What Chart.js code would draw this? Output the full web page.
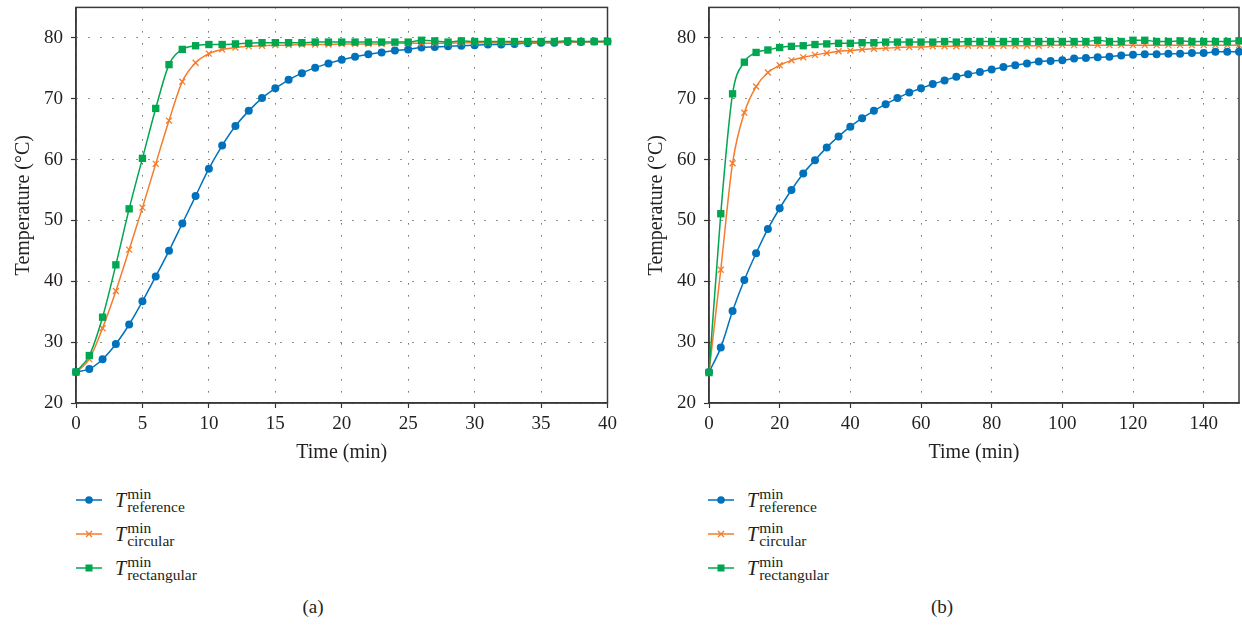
<!DOCTYPE html>
<html>
<head>
<meta charset="utf-8">
<script src="https://cdn.jsdelivr.net/npm/chart.js@4.4.1/dist/chart.umd.min.js"></script>
<style>
  body { margin: 0; background: #fff; width: 1242px; height: 627px; position: relative; overflow: hidden;
         font-family: "Liberation Serif", serif; color: #231f20; }
  .box { position: absolute; top: -12px; height: 483px; }
  .legend { position: absolute; top: 483px; }
  .row { display: flex; align-items: center; height: 34px; }
  .row svg { width: 26px; height: 14px; margin-right: 13px; }
  .T { font-style: italic; font-size: 20px; }
  .stack { display: inline-flex; flex-direction: column; font-size: 15.5px; line-height: 0.85; margin-left: 1px; }
  .cap { position: absolute; top: 596px; font-size: 19px; transform: translateX(-50%); }
</style>
</head>
<body>
<div class="box" style="left:0;width:622px"><canvas id="chartA"></canvas></div>
<div class="box" style="left:633px;width:616px"><canvas id="chartB"></canvas></div>
<div class="legend" id="legA" style="left:76px"></div>
<div class="legend" id="legB" style="left:708px"></div>
<div class="cap" style="left:313px">(a)</div>
<div class="cap" style="left:942px">(b)</div>

<script>
// (a) time in minutes, one reading per minute
const timeA = [0, 1, 2, 3, 4, 5, 6, 7, 8, 9, 10, 11, 12, 13, 14, 15, 16, 17, 18, 19, 20,
  21, 22, 23, 24, 25, 26, 27, 28, 29, 30, 31, 32, 33, 34, 35, 36, 37, 38, 39, 40];
const refA = [25.1, 25.6, 27.2, 29.7, 32.9, 36.7, 40.8, 45.0, 49.5, 54.0, 58.5,
  62.3, 65.5, 68.0, 70.1, 71.7, 73.1, 74.2, 75.1, 75.8, 76.4,
  76.9, 77.3, 77.6, 77.9, 78.1, 78.4, 78.5, 78.6, 78.7, 78.8,
  78.9, 78.9, 79.0, 79.1, 79.2, 79.2, 79.3, 79.3, 79.4, 79.4];
const circA = [25.0, 27.2, 32.3, 38.4, 45.2, 52.1, 59.3, 66.4, 72.8, 75.9, 77.4,
  78.1, 78.4, 78.6, 78.7, 78.8, 78.8, 78.9, 78.9, 78.9, 79.0,
  79.0, 79.0, 79.0, 79.1, 79.1, 79.1, 79.1, 79.1, 79.2, 79.2,
  79.2, 79.2, 79.2, 79.2, 79.3, 79.3, 79.3, 79.3, 79.3, 79.3];
const rectA = [25.1, 27.8, 34.1, 42.7, 51.9, 60.2, 68.4, 75.6, 78.1, 78.7, 78.9,
  78.9, 79.0, 79.1, 79.2, 79.2, 79.2, 79.2, 79.3, 79.3, 79.3,
  79.3, 79.3, 79.3, 79.3, 79.3, 79.6, 79.5, 79.3, 79.5, 79.4,
  79.4, 79.4, 79.4, 79.4, 79.4, 79.4, 79.5, 79.4, 79.4, 79.4];

// (b) time in minutes, readings every 3.33 min
const timeB = [0, 3.33, 6.67, 10, 13.33, 16.67, 20, 23.33, 26.67, 30, 33.33, 36.67, 40,
  43.33, 46.67, 50, 53.33, 56.67, 60, 63.33, 66.67, 70, 73.33, 76.67, 80, 83.33, 86.67,
  90, 93.33, 96.67, 100, 103.33, 106.67, 110, 113.33, 116.67, 120, 123.33, 126.67, 130,
  133.33, 136.67, 140, 143.33, 146.67, 150];
const refB = [25.1, 29.1, 35.1, 40.2, 44.6, 48.6, 52.0, 55.0, 57.7, 59.9,
  62.0, 63.8, 65.4, 66.8, 68.0, 69.1, 70.1, 71.0, 71.7, 72.4,
  73.0, 73.6, 74.0, 74.4, 74.8, 75.2, 75.5, 75.8, 76.1, 76.2,
  76.3, 76.6, 76.7, 76.8, 76.9, 77.1, 77.2, 77.3, 77.3, 77.4,
  77.4, 77.5, 77.5, 77.7, 77.7, 77.7];
const circB = [25.0, 41.9, 59.4, 67.7, 72.0, 74.3, 75.5, 76.3, 76.8, 77.2,
  77.5, 77.8, 77.9, 78.1, 78.2, 78.3, 78.4, 78.5, 78.5, 78.6,
  78.6, 78.6, 78.7, 78.7, 78.7, 78.7, 78.7, 78.7, 78.7, 78.8,
  78.8, 78.8, 78.8, 78.8, 78.8, 78.8, 78.8, 78.8, 78.8, 78.8,
  78.8, 78.8, 78.8, 78.8, 78.8, 78.8];
const rectB = [25.0, 51.1, 70.8, 76.0, 77.6, 78.0, 78.4, 78.6, 78.7, 78.9,
  79.0, 79.1, 79.1, 79.2, 79.2, 79.3, 79.3, 79.3, 79.3, 79.3,
  79.4, 79.3, 79.4, 79.4, 79.4, 79.4, 79.4, 79.4, 79.4, 79.4,
  79.4, 79.4, 79.4, 79.6, 79.4, 79.4, 79.6, 79.6, 79.4, 79.4,
  79.5, 79.4, 79.4, 79.4, 79.4, 79.5];

const seriesNames = ["reference", "circular", "rectangular"];
const colors = ["#0072bc", "#f47c2a", "#00a650"];
const markers = ["circle", "crossRot", "rect"];
const radii = [4, 4.2, 5.2];

Chart.defaults.font.family = '"Liberation Serif", serif';
Chart.defaults.color = "#231f20";

// box around the plot area
const frame = {
  id: "frame",
  beforeDatasetsDraw(chart) {
    const a = chart.chartArea, ctx = chart.ctx;
    ctx.save();
    ctx.strokeStyle = "#3a3a3a";
    ctx.lineWidth = 1.5;
    ctx.strokeRect(a.left, a.top, a.right - a.left, a.bottom - a.top);
    ctx.restore();
  }
};

function makeChart(id, xs, series, xmax, xstep) {
  const datasets = series.map((ys, k) => ({
    label: seriesNames[k],
    data: xs.map((x, i) => ({ x: x, y: ys[i] })),
    borderColor: colors[k],
    backgroundColor: colors[k],
    borderWidth: 1.5,
    pointStyle: markers[k],
    pointRadius: radii[k],
    pointBorderWidth: markers[k] === "crossRot" ? 1.3 : 0,
    cubicInterpolationMode: "monotone",
    order: 2 - k,
    clip: false
  }));
  const grid = {
    color: "#222",
    lineWidth: 1,
    tickLength: 5,
    tickColor: "#333",
    tickWidth: 1.2,
    tickBorderDash: []
  };
  new Chart(document.getElementById(id), {
    type: "line",
    data: { datasets: datasets },
    options: {
      responsive: true,
      maintainAspectRatio: false,
      animation: false,
      layout: { padding: { top: 6, right: 10, left: 0, bottom: 0 } },
      plugins: { legend: { display: false }, tooltip: { enabled: false } },
      scales: {
        x: {
          type: "linear", min: 0, max: xmax,
          ticks: { stepSize: xstep, includeBounds: false, padding: 5, font: { size: 19 } },
          grid: grid,
          border: { color: "#3a3a3a", width: 1.5, dash: [1, 11] },
          title: { display: true, text: "Time (min)", font: { size: 20 }, padding: { top: 0, bottom: 6 } },
          afterFit: s => { s.height = 68; }
        },
        y: {
          min: 20, max: 85,
          ticks: { stepSize: 10, includeBounds: false, padding: 8, font: { size: 19 } },
          grid: grid,
          border: { color: "#3a3a3a", width: 1.5, dash: [1, 11] },
          title: { display: true, text: "Temperature (°C)", font: { size: 20 }, padding: { top: 12, bottom: 0 } },
          afterFit: s => { s.width = 76; }
        }
      }
    },
    plugins: [frame]
  });
}

function markerSvg(k) {
  const c = colors[k];
  let shape;
  if (markers[k] === "circle") shape = `<circle cx="13" cy="7" r="3.8" fill="${c}"/>`;
  else if (markers[k] === "rect") shape = `<rect x="9.5" y="3.5" width="7" height="7" fill="${c}"/>`;
  else shape = `<path d="M10 4 L16 10 M16 4 L10 10" stroke="${c}" stroke-width="1.3"/>`;
  return `<svg viewBox="0 0 26 14"><line x1="0" y1="7" x2="26" y2="7" stroke="${c}" stroke-width="1.5"/>${shape}</svg>`;
}

function makeLegend(id) {
  const el = document.getElementById(id);
  el.innerHTML = seriesNames.map((n, k) =>
    `<div class="row">${markerSvg(k)}<span class="T">T</span><span class="stack"><span>min</span><span>${n}</span></span></div>`
  ).join("");
}

makeChart("chartA", timeA, [refA, circA, rectA], 40, 5);
makeChart("chartB", timeB, [refB, circB, rectB], 150, 20);
makeLegend("legA");
makeLegend("legB");
</script>
</body>
</html>
